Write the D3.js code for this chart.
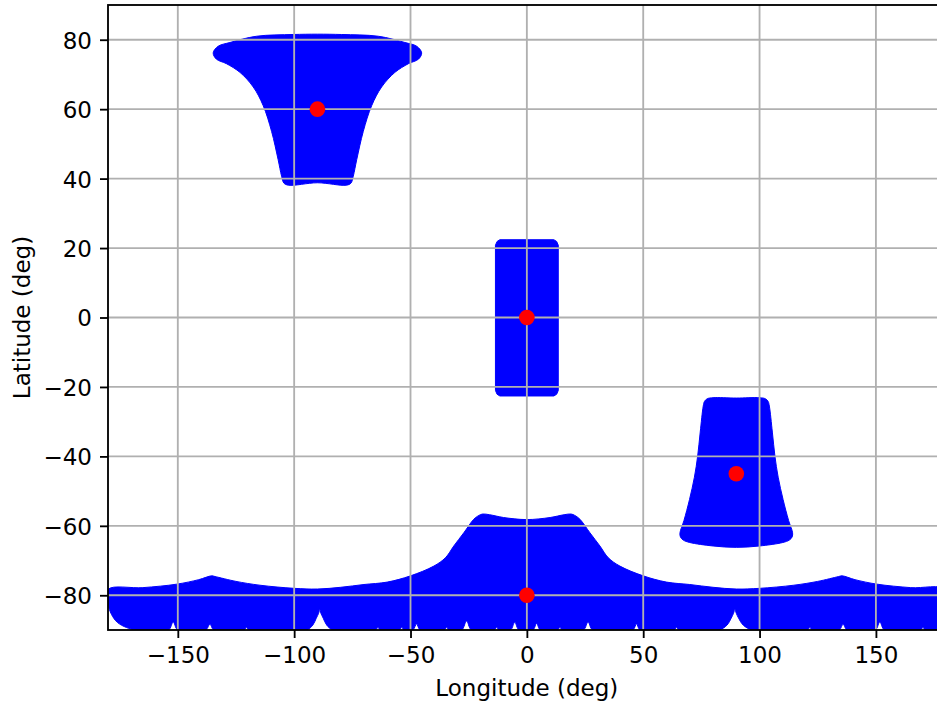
<!DOCTYPE html>
<html>
<head>
<meta charset="utf-8">
<script src="https://cdn.jsdelivr.net/npm/d3@7"></script>
<style>
  body { margin: 0; background: #fff; }
  svg { display: block; font-family: "DejaVu Sans", sans-serif; }
</style>
</head>
<body>
<svg id="chart" width="937" height="704"></svg>
<script>
// tick values
const xTicks = [-150, -100, -50, 0, 50, 100, 150];
const yTicks = [-80, -60, -40, -20, 0, 20, 40, 60, 80];

// region centres (red dots)
const centreLon = [-90, 0, 90, 0];
const centreLat = [60, 0, -45, -80];

// outlines of the covered regions, [lon, lat]
const regionNorth = [
  [-134.8, 76.2], [-132.7, 78.1], [-127.6, 79.2], [-116.2, 81.0], [-100.4, 81.5], [-90, 81.6],
  [-79.6, 81.5], [-63.8, 81.0], [-52.4, 79.2], [-47.3, 78.1], [-45.2, 76.2],
  [-46.6, 74.4], [-50.9, 73.1], [-56.7, 70.6], [-62.4, 66.4], [-66.7, 61.0], [-70.3, 53.6],
  [-73.1, 45.5], [-74.6, 40.7], [-75.6, 38.7], [-77.6, 38.1], [-90, 38.8],
  [-102.4, 38.1], [-104.4, 38.7], [-105.4, 40.7], [-106.9, 45.5], [-109.7, 53.6],
  [-113.3, 61.0], [-117.6, 66.4], [-123.3, 70.6], [-129.1, 73.1], [-133.4, 74.4]
];

const regionEquator = [
  [-13.5, 20.8], [-12.8, 21.9], [-11.6, 22.4], [11.6, 22.4], [12.8, 21.9], [13.5, 20.8],
  [13.5, -21.0], [12.8, -22.1], [11.6, -22.6], [-11.6, -22.6], [-12.8, -22.1], [-13.5, -21.0]
];

const regionSouth = [
  [75.8, -25.5], [76.3, -24.2], [77.5, -23.4], [80, -23.1], [90, -23.2], [100, -23.1],
  [102.5, -23.4], [103.7, -24.2], [104.2, -25.5], [105.5, -33.0], [106.6, -39.9],
  [108, -46.0], [110.1, -52.4], [112.5, -58.5], [114.2, -62.0], [114.0, -63.2],
  [112.8, -64.1], [110, -64.8], [100, -65.8], [90, -66.2], [80, -65.8], [70, -64.8],
  [67.2, -64.1], [66.0, -63.2], [65.8, -62.0], [67.5, -58.5], [69.9, -52.4],
  [72, -46.0], [73.4, -39.9], [74.5, -33.0]
];

const polarTop = [
  [-180, -78.3], [-165, -77.8], [-150.5, -76.8], [-141, -75.5], [-135.5, -74.4], [-134, -74.6],
  [-125, -76.0], [-114.7, -77.1], [-100, -78.0], [-90, -78.2], [-80, -77.7], [-70, -76.9],
  [-60, -76.2], [-50, -74.4], [-40, -71.6], [-35, -69.2], [-31.4, -65.8], [-27.1, -62.0],
  [-22.8, -58.1], [-20.6, -57.0], [-19, -56.6], [-16, -56.8], [-10, -57.6],
  [0, -58.2], [10, -57.6], [16, -56.8], [19, -56.6], [20.6, -57.0], [22.8, -58.1],
  [27.1, -62.0], [31.4, -65.8], [35, -69.2], [40, -71.6], [50, -74.4], [60, -76.2],
  [70, -76.9], [80, -77.7], [90, -78.2], [100, -78.0], [114.7, -77.1],
  [125, -76.0], [134, -74.6], [135.5, -74.4], [141, -75.5], [150.5, -76.8], [165, -77.8],
  [180, -78.3]
];

const polarBottom = [
  [-180, -82.5], [-178.5, -85.5], [-176, -87.8], [-172, -89.3], [-168, -90],
  [-154, -90], [-152, -87.7], [-150, -90],
  [-138, -90], [-136.2, -88.3], [-134.5, -90],
  [-121.5, -90], [-120.5, -89.2], [-119.5, -90],
  [-94.8, -90], [-92, -88.6], [-90.5, -86.6], [-89.5, -85.2], [-89, -84.0],
  [-88.5, -85.2], [-87.5, -86.6], [-86, -88.6], [-83.2, -90],
  [-65, -90], [-64, -89.2], [-63, -90],
  [-54.8, -90], [-53.8, -89.2], [-52.8, -90],
  [-49, -90], [-47.4, -88.3], [-45.8, -90],
  [-35.5, -90], [-34.5, -89.2], [-33.5, -90],
  [-28, -90], [-25.9, -87.4], [-23.8, -90],
  [-14, -90], [-13, -89.2], [-12, -90],
  [-7, -90], [-5.2, -87.8], [-3.4, -90],
  [2.6, -90], [4.2, -88.1], [5.8, -90],
  [13.2, -90], [14.2, -89.2], [15.2, -90],
  [24.3, -90], [26.3, -87.7], [28.3, -90],
  [45.5, -90], [47.1, -88.3], [48.7, -90],
  [63.3, -90], [64.3, -89.2], [65.3, -90],
  [82.5, -90], [86, -88.6], [87.8, -86.6], [88.8, -85.2], [89.4, -84.0],
  [90, -85.2], [91, -86.6], [93, -88.6], [97, -90],
  [120.6, -90], [121.6, -89.2], [122.6, -90],
  [134.2, -90], [135.9, -88.3], [137.6, -90],
  [149.7, -90], [151.7, -87.7], [153.7, -90],
  [169.2, -90], [170.2, -89.2], [171.2, -90],
  [177, -90], [178.8, -88.5], [180, -85]
];

const polarBand = polarTop.concat(polarBottom.slice().reverse());

const margin = { left: 108, top: 5, bottom: 630 };
const fontSize = 23;
const lineW = 1.84;

const svg = d3.select('#chart');

const x = d3.scaleLinear().domain([-180, 180]).range([margin.left, margin.left + 2.327 * 360]);
const y = d3.scaleLinear().domain([-90, 90]).range([margin.bottom, margin.top]);

svg.append('defs').append('clipPath').attr('id', 'plot-clip')
  .append('rect')
  .attr('x', x(-180)).attr('y', y(90))
  .attr('width', x(180) - x(-180)).attr('height', y(-90) - y(90));

const smoothOutline = d3.line()
  .x(d => x(d[0]))
  .y(d => y(d[1]))
  .curve(d3.curveCatmullRomClosed.alpha(0.5));

const straightOutline = d3.line()
  .x(d => x(d[0]))
  .y(d => y(d[1]))
  .curve(d3.curveLinearClosed);

// covered regions
const regions = [
  { pts: regionNorth, line: smoothOutline },
  { pts: regionEquator, line: straightOutline },
  { pts: regionSouth, line: smoothOutline },
  { pts: polarBand, line: smoothOutline }
];

svg.append('g')
  .attr('clip-path', 'url(#plot-clip)')
  .selectAll('path')
  .data(regions)
  .join('path')
  .attr('d', d => d.line(d.pts))
  .attr('fill', '#0000ff')
  .attr('stroke', '#0000ff')
  .attr('stroke-width', 1)
  .attr('stroke-linejoin', 'round');

// grid on top of the regions
const grid = svg.append('g').attr('stroke', '#b0b0b0').attr('stroke-width', lineW);
grid.selectAll('.gx').data(xTicks).join('line')
  .attr('x1', d => x(d)).attr('x2', d => x(d))
  .attr('y1', y(90)).attr('y2', y(-90));
grid.selectAll('.gy').data(yTicks).join('line')
  .attr('y1', d => y(d)).attr('y2', d => y(d))
  .attr('x1', x(-180)).attr('x2', x(180));

// centres
svg.append('g')
  .selectAll('circle')
  .data(centreLon.map((lon, i) => [lon, centreLat[i]]))
  .join('circle')
  .attr('cx', d => x(d[0]))
  .attr('cy', d => y(d[1]))
  .attr('r', 7.8)
  .attr('fill', '#ff0000');

// axes
const fmt = v => (v < 0 ? '\u2212' + Math.abs(v) : String(v));

const xAxis = d3.axisBottom(x).tickValues(xTicks).tickFormat(fmt).tickSize(8).tickPadding(8);
const yAxis = d3.axisLeft(y).tickValues(yTicks).tickFormat(fmt).tickSize(8).tickPadding(8);

function styleAxis(g) {
  g.select('.domain').remove();
  g.selectAll('.tick line').attr('stroke', '#000').attr('stroke-width', lineW);
  g.selectAll('.tick text')
    .attr('fill', '#000')
    .style('font-size', fontSize + 'px')
    .style('font-family', '"DejaVu Sans", sans-serif');
}

svg.append('g')
  .attr('transform', `translate(0, ${y(-90)})`)
  .call(xAxis)
  .call(styleAxis)
  .selectAll('.tick text')
  .attr('dy', null)
  .attr('y', 33);

svg.append('g')
  .attr('transform', `translate(${x(-180)}, 0)`)
  .call(yAxis)
  .call(styleAxis)
  .selectAll('.tick text')
  .attr('dy', null)
  .attr('y', 8.4);

// spines
svg.append('rect')
  .attr('x', x(-180)).attr('y', y(90))
  .attr('width', x(180) - x(-180)).attr('height', y(-90) - y(90))
  .attr('fill', 'none')
  .attr('stroke', '#000')
  .attr('stroke-width', lineW);

// axis labels
svg.append('text')
  .attr('x', x(0))
  .attr('y', 696)
  .attr('text-anchor', 'middle')
  .style('font-size', fontSize + 'px')
  .text('Longitude (deg)');

svg.append('text')
  .attr('transform', `translate(30, ${(y(90) + y(-90)) / 2}) rotate(-90)`)
  .attr('text-anchor', 'middle')
  .style('font-size', fontSize + 'px')
  .text('Latitude (deg)');
</script>
</body>
</html>
